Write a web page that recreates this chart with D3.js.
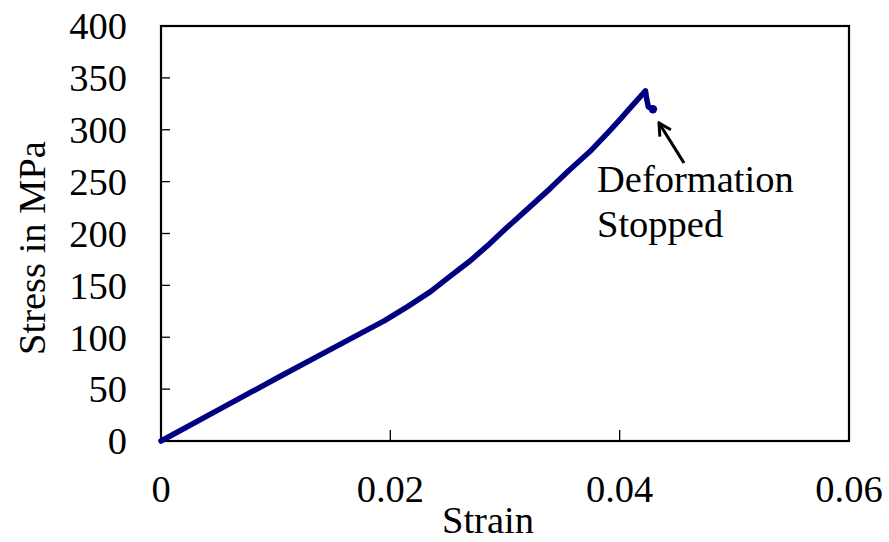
<!DOCTYPE html>
<html>
<head>
<meta charset="utf-8">
<script src="https://cdn.jsdelivr.net/npm/d3@7"></script>
<style>
  html, body { margin: 0; padding: 0; background: #fff; }
  text { font-family: "Liberation Serif", "Times New Roman", serif; fill: #000; }
</style>
</head>
<body>
<svg id="chart" width="889" height="542"></svg>
<script>
const strain = [0, 0.005, 0.010, 0.015, 0.0195, 0.0215, 0.0235, 0.025, 0.027, 0.0285, 0.030, 0.032, 0.034, 0.0355, 0.0374, 0.039, 0.040, 0.041, 0.04225, 0.04235, 0.0425, 0.0429];
const stress = [0, 30, 60, 89.5, 116, 129.5, 144, 157, 174, 188.5, 204, 224, 244, 260, 279, 297.5, 309.5, 322, 337.5, 330, 322, 319.7];
const xTicks = [0, 0.02, 0.04, 0.06];
const xTickLabels = ["0", "0.02", "0.04", "0.06"];
const yTicks = [0, 50, 100, 150, 200, 250, 300, 350, 400];
const annotationLines = ["Deformation", "Stopped"];

const FS = 38.5;
const svg = d3.select("#chart");
const L = 161, R = 849, T = 26, B = 441;
const x = d3.scaleLinear().domain([0, 0.06]).range([L, R]);
const y = d3.scaleLinear().domain([0, 400]).range([B, T]);

// y axis tick labels
svg.append("g").selectAll("text").data(yTicks).join("text")
  .attr("x", 127).attr("y", d => y(d) + 13.3)
  .attr("text-anchor", "end").attr("font-size", FS)
  .text(d => d);

// y ticks inward
svg.append("g").selectAll("line").data(yTicks).join("line")
  .attr("x1", L).attr("x2", L + 9)
  .attr("y1", d => y(d)).attr("y2", d => y(d))
  .attr("stroke", "#000").attr("stroke-width", 1.3);

// x ticks inward
svg.append("g").selectAll("line").data(xTicks).join("line")
  .attr("x1", d => x(d)).attr("x2", d => x(d))
  .attr("y1", B).attr("y2", B - 11)
  .attr("stroke", "#000").attr("stroke-width", 1.3);

// x tick labels
svg.append("g").selectAll("text").data(xTicks).join("text")
  .attr("x", d => x(d)).attr("y", 501.5)
  .attr("text-anchor", "middle").attr("font-size", FS)
  .text((d, i) => xTickLabels[i]);

// frame
svg.append("rect")
  .attr("x", L).attr("y", T).attr("width", R - L).attr("height", B - T)
  .attr("fill", "none").attr("stroke", "#000").attr("stroke-width", 2.2);

// axis titles
svg.append("text")
  .attr("x", 488).attr("y", 533)
  .attr("text-anchor", "middle").attr("font-size", FS)
  .text("Strain");
svg.append("text")
  .attr("transform", "translate(45,248) rotate(-90)")
  .attr("text-anchor", "middle").attr("font-size", FS)
  .text("Stress in MPa");

// data line
const pts = strain.map((s, i) => [s, stress[i]]);
const line = d3.line().x(d => x(d[0])).y(d => y(d[1]));
svg.append("path").datum(pts)
  .attr("d", line)
  .attr("fill", "none").attr("stroke", "#000080")
  .attr("stroke-width", 5.5).attr("stroke-linejoin", "round").attr("stroke-linecap", "round");

// end point marker
const last = pts[pts.length - 1];
svg.append("circle")
  .attr("cx", x(last[0])).attr("cy", y(last[1])).attr("r", 4.2)
  .attr("fill", "#000080");

// annotation arrow
svg.append("defs").append("marker")
  .attr("id", "arr").attr("viewBox", "0 0 16 16")
  .attr("refX", 14).attr("refY", 8)
  .attr("markerWidth", 16).attr("markerHeight", 16)
  .attr("markerUnits", "userSpaceOnUse")
  .attr("orient", "auto")
  .append("path").attr("d", "M2,1.5 L14,8 L2,14.5")
  .attr("fill", "none").attr("stroke", "#000").attr("stroke-width", 3);
svg.append("line")
  .attr("x1", 684).attr("y1", 163).attr("x2", 659).attr("y2", 123)
  .attr("stroke", "#000").attr("stroke-width", 3.2)
  .attr("marker-end", "url(#arr)");

// annotation text
svg.append("g").selectAll("text").data(annotationLines).join("text")
  .attr("x", 597).attr("y", (d, i) => 191.5 + i * 45.5)
  .attr("font-size", FS)
  .text(d => d);
</script>
</body>
</html>
